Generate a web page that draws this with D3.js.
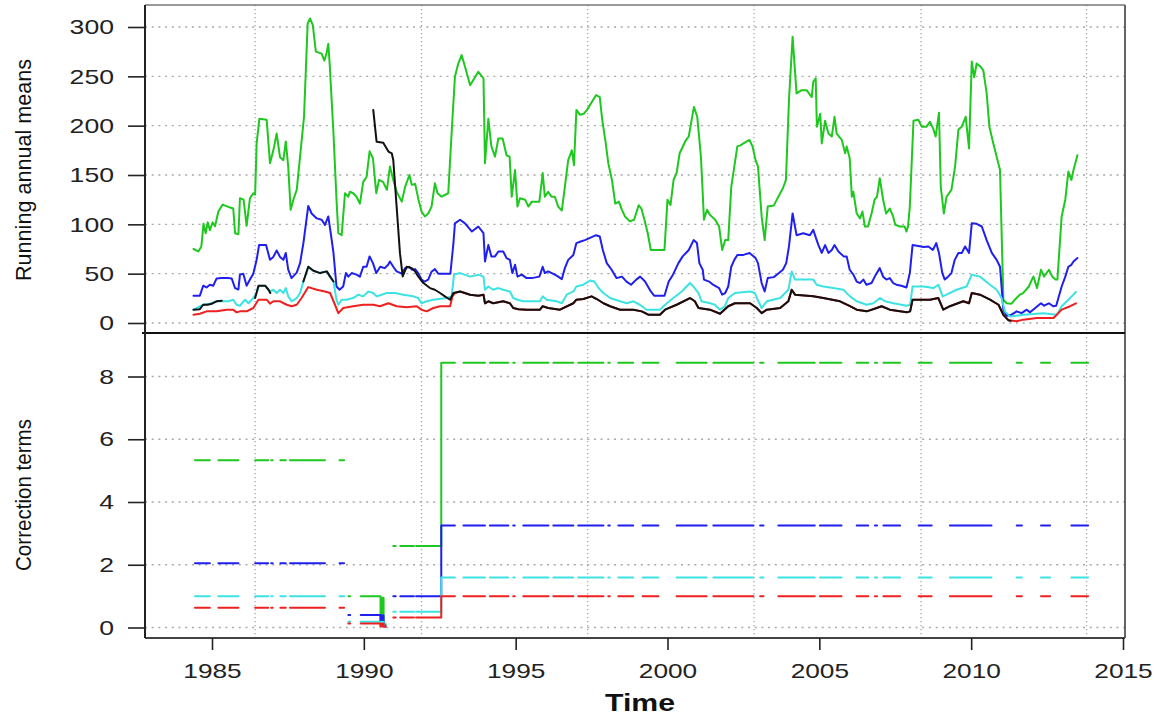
<!DOCTYPE html>
<html><head><meta charset="utf-8">
<script src="https://cdn.jsdelivr.net/npm/d3@7"></script>
<style>body{margin:0;background:#fff}svg{display:block}</style>
</head><body><svg id="c" width="1161" height="715"></svg>
<script>
// ---------- tick labels / categories ----------
const xTicks = [1985, 1990, 1995, 2000, 2005, 2010, 2015];
const yTicksTop = [0, 50, 100, 150, 200, 250, 300];
const yTicksBottom = [0, 2, 4, 6, 8];
const gridYears = [1986.42, 1991.9, 1997.37, 2002.85, 2008.35, 2013.8];

// ---------- top panel: running annual means ([year, value]) ----------
const greenMeans = [[1984.39,75],[1984.55,72.5],[1984.65,77.6],[1984.72,100.5],[1984.79,91],[1984.86,102],[1984.93,94],[1985.02,102],[1985.1,98],[1985.21,113],[1985.35,120],[1985.6,117],[1985.7,116],[1985.76,91],[1985.87,90],[1985.92,126.5],[1986.04,125],[1986.14,98.5],[1986.25,126.5],[1986.36,131.5],[1986.42,130],[1986.47,182],[1986.56,207],[1986.8,206],[1986.91,162],[1987.02,175],[1987.13,192],[1987.24,168],[1987.35,165],[1987.43,184],[1987.51,158.5],[1987.59,114.7],[1987.68,125],[1987.79,135],[1987.9,168.6],[1988.03,209],[1988.15,303.5],[1988.23,308.6],[1988.32,302],[1988.42,275],[1988.61,273],[1988.7,266],[1988.77,273],[1988.83,283],[1988.88,260],[1989.0,192],[1989.1,125],[1989.16,91],[1989.27,89],[1989.38,131.5],[1989.49,128],[1989.54,133],[1989.65,131.5],[1989.76,128],[1989.87,121],[1989.98,143],[1990.09,148],[1990.19,174],[1990.3,167],[1990.41,131.5],[1990.5,145],[1990.63,143],[1990.76,135],[1990.86,158.5],[1990.97,145],[1991.08,133],[1991.25,123],[1991.36,138],[1991.5,150],[1991.58,140],[1991.69,141],[1991.8,125],[1991.9,113],[1992.01,108],[1992.12,111],[1992.23,118],[1992.34,141.6],[1992.43,131.5],[1992.56,128],[1992.78,131.5],[1992.89,192],[1993.0,249.6],[1993.11,263],[1993.22,271.5],[1993.33,260],[1993.5,241],[1993.6,246],[1993.77,254.6],[1993.94,248],[1993.99,162],[1994.1,207],[1994.2,179],[1994.32,168.6],[1994.43,187],[1994.57,187],[1994.7,170],[1994.8,168.6],[1994.87,128],[1994.98,155],[1995.06,118],[1995.14,126.5],[1995.31,125],[1995.42,118],[1995.53,123],[1995.78,123],[1995.89,152],[1995.96,128],[1996.07,133],[1996.18,128],[1996.29,128],[1996.4,118],[1996.52,114],[1996.62,138],[1996.73,165],[1996.85,175],[1996.92,160],[1997.0,216],[1997.12,211],[1997.24,212],[1997.35,216],[1997.65,231],[1997.77,229],[1997.85,206],[1997.96,183.6],[1998.05,162],[1998.17,145],[1998.28,121],[1998.4,123],[1998.5,114.7],[1998.6,108],[1998.76,103],[1998.9,104.6],[1999.05,119.4],[1999.14,116],[1999.24,104.6],[1999.35,91],[1999.45,74],[1999.9,74],[2000.0,125],[2000.1,119.7],[2000.2,145],[2000.3,152],[2000.4,172],[2000.6,185],[2000.7,189],[2000.87,219],[2000.98,209],[2001.1,168.6],[2001.15,138],[2001.2,104.6],[2001.3,114.7],[2001.4,109.6],[2001.57,104.6],[2001.7,97.8],[2001.8,74],[2001.9,84],[2002.0,84],[2002.1,138],[2002.2,158.5],[2002.3,179],[2002.4,180],[2002.5,182],[2002.7,185.5],[2002.8,179],[2002.9,165],[2002.98,158.5],[2003.1,108],[2003.2,84],[2003.3,118],[2003.5,119],[2003.6,125],[2003.8,136.6],[2003.9,145],[2004.0,226],[2004.12,290],[2004.25,232.7],[2004.42,236],[2004.58,236],[2004.75,229],[2004.8,244.5],[2004.88,248],[2004.92,199],[2005.03,212],[2005.08,182],[2005.19,205],[2005.3,192],[2005.41,189],[2005.5,209],[2005.57,192],[2005.74,185.5],[2005.85,172],[2005.9,179],[2006.0,167],[2006.07,128],[2006.12,133],[2006.23,111],[2006.34,106],[2006.42,113],[2006.5,97.8],[2006.6,97.8],[2006.72,111],[2006.82,125],[2006.9,128],[2006.99,146.7],[2007.1,125],[2007.2,111],[2007.32,116],[2007.43,108],[2007.5,99.5],[2007.65,97.8],[2007.81,97.8],[2007.87,92.7],[2007.92,97.8],[2007.98,118],[2008.1,205],[2008.26,206],[2008.37,199],[2008.53,199],[2008.64,204],[2008.75,197],[2008.83,189],[2008.94,213],[2009.0,138],[2009.1,111],[2009.19,128],[2009.35,135],[2009.47,158.5],[2009.58,196],[2009.69,199],[2009.82,209],[2009.93,177],[2010.02,265],[2010.1,249],[2010.18,263],[2010.3,260],[2010.4,256],[2010.51,233],[2010.6,199],[2010.73,182],[2010.84,168.6],[2010.95,155],[2011.06,23.6],[2011.17,20],[2011.33,19.6],[2011.44,23.6],[2011.6,28.7],[2011.7,30],[2011.9,37],[2012.0,44],[2012.05,47],[2012.17,35.4],[2012.3,54],[2012.4,47],[2012.56,54],[2012.67,47],[2012.78,44],[2012.84,44],[2012.98,108],[2013.1,125],[2013.2,153.5],[2013.3,145],[2013.37,155],[2013.5,170]];

const blueMeans = [[1984.39,27.7],[1984.6,27.7],[1984.71,37.8],[1984.82,36],[1984.93,38.8],[1985.04,37.8],[1985.15,45],[1985.31,45.5],[1985.53,45.5],[1985.65,45],[1985.76,35.4],[1985.87,34],[1985.92,49],[1986.03,50],[1986.14,37.8],[1986.25,44],[1986.36,50],[1986.47,64],[1986.55,79],[1986.78,79],[1986.91,64],[1987.02,67],[1987.13,73.5],[1987.24,67],[1987.35,64],[1987.43,71],[1987.51,54],[1987.62,45.5],[1987.79,51],[1987.9,60.7],[1988.01,81],[1988.17,118.7],[1988.28,111],[1988.45,106],[1988.61,104.6],[1988.72,99.5],[1988.83,108],[1988.91,91],[1989.0,71],[1989.1,37],[1989.2,33.7],[1989.32,37],[1989.41,50.6],[1989.49,47],[1989.6,50.6],[1989.76,49],[1989.87,47],[1989.98,57],[1990.09,57],[1990.19,67.5],[1990.3,60.7],[1990.41,50.6],[1990.54,57],[1990.69,55.6],[1990.8,59],[1990.86,62.4],[1990.97,57],[1991.08,52.3],[1991.25,50],[1991.36,55.6],[1991.5,57],[1991.58,54],[1991.69,54.6],[1991.8,50],[1991.9,44],[1992.0,42],[1992.12,44],[1992.23,52],[1992.34,54.6],[1992.45,50],[1992.85,50],[1992.95,80.6],[1993.0,101],[1993.17,104.6],[1993.33,101],[1993.56,92.7],[1993.77,97.8],[1993.94,91],[1993.99,62.4],[1994.1,79],[1994.2,67.5],[1994.32,67.5],[1994.43,72.5],[1994.59,72.5],[1994.7,65.8],[1994.81,64],[1994.89,50.6],[1994.98,59],[1995.06,47],[1995.2,49],[1995.36,45.5],[1995.53,45.5],[1995.78,47],[1995.89,57],[1995.96,50.6],[1996.07,52.3],[1996.29,49],[1996.4,47],[1996.52,44.5],[1996.62,55.6],[1996.73,64],[1996.9,69],[1997.0,81],[1997.14,82.6],[1997.28,84],[1997.65,89],[1997.77,87.7],[1997.87,74],[1998.0,60.7],[1998.16,54],[1998.32,45.5],[1998.5,47],[1998.65,42],[1998.8,38.8],[1998.97,44],[1999.1,47],[1999.26,42],[1999.45,32],[1999.56,27.7],[1999.9,27.7],[2000.04,42],[2000.18,49],[2000.36,60.7],[2000.5,67.5],[2000.7,74],[2000.86,84],[2000.97,81],[2001.05,60.7],[2001.16,54],[2001.2,44],[2001.37,42],[2001.5,38.8],[2001.7,35.4],[2001.8,28.7],[2001.9,30.4],[2002.0,37],[2002.1,57],[2002.2,64],[2002.3,69],[2002.5,69],[2002.7,71],[2002.9,65.8],[2002.98,60.7],[2003.1,40.5],[2003.2,32],[2003.3,45.5],[2003.5,46.5],[2003.6,49],[2003.8,54],[2003.91,60.7],[2004.0,77.6],[2004.12,111],[2004.25,89],[2004.47,91],[2004.69,89],[2004.8,94.4],[2004.89,86],[2004.97,79],[2005.08,71],[2005.19,79],[2005.3,71],[2005.41,74],[2005.5,79],[2005.63,72.5],[2005.8,67.5],[2005.9,67.5],[2006.0,54],[2006.12,49],[2006.23,42],[2006.34,40.5],[2006.45,44],[2006.55,38.8],[2006.72,40.5],[2006.86,49],[2006.99,55.6],[2007.1,47],[2007.21,44],[2007.32,45.5],[2007.43,40.5],[2007.54,38.8],[2007.7,37.8],[2007.87,36],[2007.98,50.6],[2008.07,79],[2008.26,78],[2008.43,77],[2008.59,77.6],[2008.74,74],[2008.85,81],[2008.94,71],[2009.05,50.6],[2009.13,44],[2009.24,47],[2009.35,50.6],[2009.46,64],[2009.58,71],[2009.69,71],[2009.8,77.6],[2009.93,71],[2010.02,101],[2010.18,100.5],[2010.35,97.8],[2010.51,84],[2010.68,71],[2010.84,64],[2010.95,57],[2011.06,13.5],[2011.17,7.4],[2011.33,8.4],[2011.5,11.8],[2011.66,10],[2011.83,13.5],[2011.94,10.8],[2012.1,15],[2012.3,20],[2012.4,17.5],[2012.56,20],[2012.7,17],[2012.8,17.5],[2012.98,37],[2013.1,47],[2013.2,57],[2013.3,59],[2013.37,62.4],[2013.5,65.8]];

const cyanMeans = [[1984.39,13.5],[1984.71,18.5],[1984.93,19.6],[1985.15,22],[1985.37,22],[1985.54,22],[1985.7,23.6],[1985.81,18.5],[1985.92,17.5],[1986.09,23.6],[1986.2,20],[1986.36,25.3],[1986.47,30.4],[1986.55,37.8],[1986.75,37.8],[1986.91,32],[1987.02,33.7],[1987.13,30.4],[1987.24,33.7],[1987.35,30.4],[1987.43,35.4],[1987.51,27],[1987.62,22],[1987.79,25.3],[1987.9,30.4],[1988.01,42],[1988.17,57],[1988.34,53],[1988.56,50.6],[1988.78,52.3],[1988.89,47],[1989.0,42],[1989.1,23.6],[1989.16,18.5],[1989.27,23.6],[1989.43,23.6],[1989.65,25.3],[1989.82,28.7],[1989.98,27],[1990.15,32],[1990.31,30.4],[1990.42,27],[1990.59,28.7],[1990.75,30.4],[1991.03,30.4],[1991.3,28.7],[1991.63,27],[1991.79,25.3],[1991.9,20],[1992.07,22],[1992.29,23.6],[1992.73,25.3],[1992.89,27],[1992.97,49],[1993.17,50.6],[1993.5,47],[1993.77,49],[1993.94,47],[1993.99,33.7],[1994.1,37],[1994.26,33.7],[1994.43,35.4],[1994.59,33.7],[1994.81,32],[1994.92,25.3],[1995.06,23.6],[1995.25,22],[1995.8,22],[1995.89,27],[1996.02,23.6],[1996.35,22],[1996.52,20],[1996.68,28.7],[1996.9,32],[1997.0,37],[1997.23,38.8],[1997.45,43],[1997.59,42],[1997.73,35.4],[1997.89,30.4],[1998.11,25.3],[1998.44,22],[1998.66,20],[1998.88,22],[1999.09,18.5],[1999.31,13.5],[1999.75,13.5],[1999.92,18.5],[2000.19,25.3],[2000.47,32],[2000.74,40.5],[2000.85,37],[2001.02,30.4],[2001.12,22],[2001.4,20],[2001.56,18.5],[2001.73,13.5],[2001.89,17],[2002.0,25.3],[2002.22,30.4],[2002.72,32],[2002.88,30.4],[2002.99,22],[2003.1,15.2],[2003.27,22],[2003.71,25.3],[2003.98,33.7],[2004.09,52.3],[2004.2,44],[2004.8,44],[2004.91,38.8],[2005.13,37],[2005.46,35.4],[2005.79,33.7],[2006.01,27],[2006.23,22],[2006.56,18.5],[2006.78,20],[2007.0,25.3],[2007.16,22],[2007.44,20],[2007.88,17.5],[2007.99,18.5],[2008.07,37],[2008.43,37],[2008.76,35.4],[2008.92,38.8],[2009.06,27],[2009.19,28.7],[2009.52,33.7],[2009.85,37],[2010.02,49],[2010.29,47],[2010.62,38.8],[2010.84,33.7],[2011.0,25.3],[2011.11,11.8],[2011.28,6.7],[2011.72,8.4],[2012.38,10],[2012.82,8.4],[2012.98,17],[2013.15,22],[2013.31,27],[2013.45,31.4]];

const redMeans = [[1984.39,8.4],[1984.6,9.4],[1984.82,11.8],[1985.15,11.8],[1985.48,13.5],[1985.7,13.5],[1985.81,10.8],[1985.92,11.8],[1986.14,11.8],[1986.36,15.2],[1986.53,23.6],[1986.8,23.6],[1986.91,19.6],[1987.02,22],[1987.24,22],[1987.46,18.5],[1987.62,17],[1987.79,18.5],[1987.95,25.3],[1988.17,36.4],[1988.45,33.7],[1988.72,32],[1988.89,30.4],[1989.05,18.5],[1989.16,10],[1989.32,15.2],[1989.65,17],[1989.98,18.5],[1990.31,18.5],[1990.53,17],[1990.81,20],[1991.08,17],[1991.41,16],[1991.74,17],[1991.9,13.5],[1992.07,11.8],[1992.29,15.2],[1992.51,17],[1992.84,17],[1992.92,27],[1993.0,30.4],[1993.17,32],[1993.5,28.7],[1993.77,27.7],[1993.94,28.7],[1993.99,20],[1994.1,22],[1994.26,20],[1994.59,22],[1994.81,20],[1994.92,15.2],[1995.09,14],[1995.36,13.5],[1995.8,13.5],[1995.89,17],[1996.07,15.2],[1996.46,13.5],[1996.9,20],[1997.0,23.6],[1997.23,24.3],[1997.5,27],[1997.67,24.3],[1997.89,20],[1998.11,17],[1998.44,13.5],[1998.88,13.5],[1999.15,11.8],[1999.37,8.4],[1999.75,8.4],[1999.92,13.5],[2000.3,18.5],[2000.74,25.3],[2000.9,22],[2001.02,15.2],[2001.4,13.5],[2001.73,9.4],[2002.0,17],[2002.22,20],[2002.72,20],[2002.94,15.2],[2003.1,10],[2003.27,13.5],[2003.71,15.2],[2003.98,22],[2004.09,33.7],[2004.2,28.7],[2004.8,27],[2005.13,25.3],[2005.68,22],[2006.01,17],[2006.23,13.5],[2006.56,11.8],[2006.89,15.2],[2007.05,17],[2007.32,13.5],[2007.88,10.8],[2007.99,11.8],[2008.07,23.6],[2008.64,23.6],[2008.92,25.3],[2009.08,13.5],[2009.3,17],[2009.74,22],[2009.93,20],[2010.02,30.4],[2010.29,28.7],[2010.62,23.6],[2010.9,18.5],[2011.06,8.4],[2011.23,2.7],[2011.5,1.7],[2011.72,3.4],[2012.16,5],[2012.71,5],[2012.82,8.4],[2012.98,13.5],[2013.26,17],[2013.45,20]];

// black series has gaps (null = missing)
const blackMeans = [[1984.39,13.5],[1984.6,14],[1984.71,18.5],[1984.85,18.5],[1985.0,19.6],[1985.15,22],[1985.32,22.6],[1985.33,null],
[1986.42,25.3],[1986.53,37.8],[1986.75,37.8],[1986.86,33.7],[1986.92,30.4],[1986.93,null],
[1988.01,42],[1988.17,57],[1988.34,53],[1988.56,50.6],[1988.78,52.3],[1988.89,47],[1989.0,42],[1989.01,null],
[1990.31,216],[1990.42,183.8],[1990.64,182.8],[1990.81,173.7],[1990.92,172],[1990.97,165],[1991.08,118],[1991.19,70.8],[1991.28,47.2],[1991.41,57],[1991.58,55.6],[1991.69,52.3],[1991.79,47.2],[1991.96,40.5],[1992.18,35.4],[1992.34,33.7],[1992.51,30.4],[1992.67,27],[1992.84,23.6],[1992.95,30.4],[1993.17,32],[1993.5,28.7],[1993.77,27.7],[1993.94,28.7],[1993.99,20],[1994.1,22],[1994.26,20],[1994.59,22],[1994.81,20],[1994.92,15.2],[1995.09,14],[1995.36,13.5],[1995.8,13.5],[1995.89,17],[1996.07,15.2],[1996.46,13.5],[1996.9,20],[1997.0,23.6],[1997.23,24.3],[1997.5,27],[1997.67,24.3],[1997.89,20],[1998.11,17],[1998.44,13.5],[1998.88,13.5],[1999.15,11.8],[1999.37,8.4],[1999.75,8.4],[1999.92,13.5],[2000.3,18.5],[2000.74,25.3],[2000.9,22],[2001.02,15.2],[2001.4,13.5],[2001.73,9.4],[2002.0,17],[2002.22,20],[2002.72,20],[2002.94,15.2],[2003.1,10],[2003.27,13.5],[2003.71,15.2],[2003.98,22],[2004.09,33.7],[2004.2,28.7],[2004.8,27],[2005.13,25.3],[2005.68,22],[2006.01,17],[2006.23,13.5],[2006.56,11.8],[2006.89,15.2],[2007.05,17],[2007.32,13.5],[2007.88,10.8],[2007.99,11.8],[2008.07,23.6],[2008.64,23.6],[2008.92,25.3],[2009.08,13.5],[2009.3,17],[2009.74,22],[2009.93,20],[2010.02,30.4],[2010.29,28.7],[2010.62,23.6],[2010.9,18.5],[2011.06,8.4],[2011.23,2.7],[2011.3,2.2]];

// ---------- bottom panel: correction terms (step levels) ----------
const corrPeriodStart = [1984.4, 1989.4, 1990.55, 1990.6, 1990.65, 1990.9, 1992.55];
const greenCorr = [5.33, 1.0, 0.15, 0.95, 0.1, 2.6, 8.44];
const blueCorr  = [2.05, 0.4, 0.1, 0.38, 0.05, 1.0, 3.25];
const cyanCorr  = [1.0, 0.18, 0.05, 0.18, 0.02, 0.5, 1.59];
const redCorr   = [0.63, 0.13, 0.04, 0.12, 0.02, 0.32, 1.0];
const observedSegments = [[1984.44,1984.93],[1985.21,1985.87],[1986.42,1986.85],[1986.95,1987.0],[1987.25,1987.43],[1987.57,1988.72],[1989.2,1989.35],[1989.49,1989.55],[1989.9,1990.72],[1990.97,1991.05],[1991.2,1991.65],[1991.72,1993.0],[1993.28,1993.99],[1994.15,1994.76],[1994.92,1994.97],[1995.25,1996.08],[1996.24,1996.9],[1997.06,1997.89],[1998.05,1998.1],[1998.38,1998.87],[1999.18,1999.7],[2000.3,2001.29],[2001.51,2002.83],[2003.05,2003.16],[2003.65,2004.85],[2005.02,2005.73],[2006.23,2006.61],[2006.83,2006.9],[2007.11,2007.66],[2008.27,2008.7],[2009.3,2010.67],[2011.5,2011.67],[2012.3,2012.6],[2013.3,2013.85]];

// ---------- colours ----------
const COL = {green:"#1ec81e", blue:"#1f1fee", cyan:"#3de2e2", red:"#ee2020", black:"#111111"};

// ---------- scales ----------
const svg = d3.select("#c");
const L = 145, R = 1125, T = 5, MID = 333, B = 638;
const x = d3.scaleLinear().domain([1985, 2015]).range([212, 1123]);
const yTop = d3.scaleLinear().domain([0, 300]).range([323, 27]);
const yBot = d3.scaleLinear().domain([0, 8]).range([627.5, 376.5]);

// ---------- grid ----------
const grid = svg.append("g").attr("stroke", "#a8a8a8").attr("stroke-width", 1.3);
grid.selectAll("line.gx").data(gridYears).join("line")
  .attr("x1", d => x(d)).attr("x2", d => x(d)).attr("y1", T).attr("y2", B)
  .attr("stroke-dasharray", "1.3,2.7");
grid.selectAll("line.gyt").data(yTicksTop).join("line").attr("class","gyt")
  .attr("x1", L).attr("x2", R).attr("y1", d => yTop(d)).attr("y2", d => yTop(d))
  .attr("stroke-dasharray", "2,4.7");
grid.selectAll("line.gyb").data(yTicksBottom).join("line").attr("class","gyb")
  .attr("x1", L).attr("x2", R).attr("y1", d => yBot(d)).attr("y2", d => yBot(d))
  .attr("stroke-dasharray", "2,4.7");

// ---------- top lines ----------
const lineTop = d3.line().defined(d => d[1] !== null).x(d => x(d[0])).y(d => yTop(d[1]));
const topSeries = [[greenMeans, COL.green],[blueMeans, COL.blue],[cyanMeans, COL.cyan],[redMeans, COL.red],[blackMeans, COL.black]];
const gTop = svg.append("g").attr("fill","none").attr("stroke-width",2).attr("stroke-linejoin","round").attr("stroke-linecap","round");
topSeries.forEach(([data, c]) => gTop.append("path").attr("d", lineTop(data)).attr("stroke", c));

// ---------- bottom lines ----------
function levelAt(levels, t) {
  let v = levels[0];
  corrPeriodStart.forEach((p, i) => { if (t >= p) v = levels[i]; });
  return v;
}
function corrPoints(levels) {
  const pts = [];
  observedSegments.forEach(([a, b]) => {
    const ts = [a, ...corrPeriodStart.filter(p => p > a && p < b), b];
    ts.forEach(t => pts.push([t, levelAt(levels, t)]));
    pts.push(null);
  });
  return pts;
}
const lineBot = d3.line().defined(d => d !== null).x(d => x(d[0])).y(d => yBot(d[1])).curve(d3.curveStepAfter);
const botSeries = [[greenCorr, COL.green],[blueCorr, COL.blue],[cyanCorr, COL.cyan],[redCorr, COL.red]];
const gBot = svg.append("g").attr("fill","none").attr("stroke-width",2).attr("stroke-linejoin","round").attr("stroke-linecap","round");
botSeries.forEach(([lv, c]) => gBot.append("path").attr("d", lineBot(corrPoints(lv))).attr("stroke", c));

// ---------- frame ----------
svg.append("line").attr("x1", L).attr("x2", R).attr("y1", T).attr("y2", T).attr("stroke", "#777").attr("stroke-width", 1.5);
svg.append("line").attr("x1", R).attr("x2", R).attr("y1", T).attr("y2", B).attr("stroke", "#555").attr("stroke-width", 1.8);
svg.append("line").attr("x1", L).attr("x2", R).attr("y1", B).attr("y2", B).attr("stroke", "#444").attr("stroke-width", 1.8);
svg.append("line").attr("x1", L - 3).attr("x2", R).attr("y1", MID).attr("y2", MID).attr("stroke", "#111").attr("stroke-width", 2.2);
svg.append("line").attr("x1", L).attr("x2", L).attr("y1", T).attr("y2", B).attr("stroke", "#222").attr("stroke-width", 2);

// ---------- axes ----------
function styleAxis(g, charW) {
  g.select(".domain").remove();
  g.selectAll(".tick line").attr("stroke", "#222").attr("stroke-width", 1.6);
  g.selectAll(".tick text")
    .attr("font-family", "'Liberation Sans', Arial, sans-serif").attr("font-size", 21).attr("fill", "#222")
    .attr("textLength", function () { return this.textContent.length * charW; })
    .attr("lengthAdjust", "spacingAndGlyphs");
}
const axT = svg.append("g").attr("transform", `translate(${L},0)`)
  .call(d3.axisLeft(yTop).tickValues(yTicksTop).tickSize(17).tickPadding(14).tickFormat(d3.format("d")));
styleAxis(axT, 14.8);
const axB = svg.append("g").attr("transform", `translate(${L},0)`)
  .call(d3.axisLeft(yBot).tickValues(yTicksBottom).tickSize(17).tickPadding(14).tickFormat(d3.format("d")));
styleAxis(axB, 14.8);
const axX = svg.append("g").attr("transform", `translate(0,${B})`)
  .call(d3.axisBottom(x).tickValues(xTicks).tickSize(12).tickPadding(13).tickFormat(d3.format("d")));
styleAxis(axX, 14.6);

// ---------- titles ----------
svg.append("text").attr("transform", "translate(31,170) rotate(-90)").attr("text-anchor", "middle")
  .attr("font-family", "'Liberation Sans Narrow', 'Liberation Sans', sans-serif").attr("font-size", 22).attr("fill", "#111")
  .attr("textLength", 222).attr("lengthAdjust", "spacingAndGlyphs").text("Running annual means");
svg.append("text").attr("transform", "translate(31,495) rotate(-90)").attr("text-anchor", "middle")
  .attr("font-family", "'Liberation Sans Narrow', 'Liberation Sans', sans-serif").attr("font-size", 22).attr("fill", "#111")
  .attr("textLength", 152).attr("lengthAdjust", "spacingAndGlyphs").text("Correction terms");
svg.append("text").attr("x", 640).attr("y", 711).attr("text-anchor", "middle")
  .attr("font-family", "'Liberation Sans', Arial, sans-serif").attr("font-weight", "bold").attr("font-size", 24).attr("fill", "#111")
  .attr("textLength", 70).attr("lengthAdjust", "spacingAndGlyphs").text("Time");
</script></body></html>
